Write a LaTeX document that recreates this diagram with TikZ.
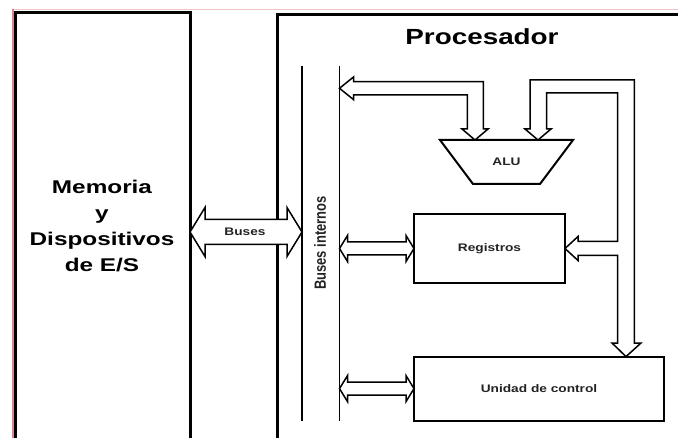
\documentclass[tikz,border=0pt]{standalone}
\usepackage{fontspec}
\setmainfont{Liberation Sans}
\usetikzlibrary{calc}
\definecolor{framepink}{RGB}{214,132,150}
\definecolor{toppink}{RGB}{238,196,198}
\definecolor{labelgray}{RGB}{35,35,35}
\tikzset{
	bigbox/.style={draw, line width=3bp, outer sep=0pt, inner sep=0pt},
	unitbox/.style={draw, fill=white, line width=2bp, outer sep=0pt, inner sep=0pt},
	busline/.style={line width=1.5bp},
	hollow/.style={draw, fill=white, line width=1.5bp, line join=miter},
	lbl/.style={font=\fontsize{11}{13}\selectfont\bfseries, text=labelgray, xscale=1.25},
}
% horizontal hollow double arrow: left tip, right tip, head length, head half, shaft half
\newcommand{\dblarrow}[5]{%
	\draw[hollow] (#1) -- ($(#1)+(#3,-#4)$) -- ($(#1)+(#3,-#5)$) -- ($(#2)+(-#3,-#5)$)
	-- ($(#2)+(-#3,-#4)$) -- (#2) -- ($(#2)+(-#3,#4)$) -- ($(#2)+(-#3,#5)$)
	-- ($(#1)+(#3,#5)$) -- ($(#1)+(#3,#4)$) -- cycle;}

\begin{document}
\begin{tikzpicture}[x=1bp, y=-1bp]
	\useasboundingbox (0,0) rectangle (678,438);
	\fill[white] (0,0) rectangle (678,438);
	
	% edge of the scan
	\draw[toppink, line width=1bp] (12,9.5) -- (678,9.5);
	\draw[framepink, line width=2bp] (12.5,9.5) -- (12.5,438);
	
	% outer blocks
	\node[bigbox, minimum width=175bp, minimum height=460bp, anchor=north west] (mem) at (15,13) {};
	\node[bigbox, minimum width=430bp, minimum height=460bp, anchor=north west] (proc) at (277,15) {};
	
	\node[font=\fontsize{22}{26}\selectfont\bfseries, xscale=1.27] (title) at (482,37) {Procesador};
	\node[font=\fontsize{18.5}{26}\selectfont\bfseries, align=center, xscale=1.32] (memtxt) at (102,226)
	{Memoria\\y\\Dispositivos\\de E/S};
	
	% internal buses
	\coordinate (busL top) at (302,66);
	\coordinate (busL bot) at (302,421);
	\coordinate (busR top) at (339.5,66);
	\coordinate (busR bot) at (339.5,421);
	\draw[busline] (busL top) -- (busL bot);
	\draw[busline] (busR top) -- (busR bot);
	\node[lbl, font=\fontsize{13}{15}\selectfont\bfseries, rotate=90] (busname) at (320,243) {Buses internos};
	
	% units
	\node[unitbox, minimum width=151bp, minimum height=69bp] (regs) at (489.5,248.5) {};
	\node[lbl] (regstxt) at (regs) {Registros};
	\node[unitbox, minimum width=250bp, minimum height=64bp] (uc) at (539,388.6) {};
	\node[lbl] (uctxt) at (uc) {Unidad de control};
	
	\coordinate (aluTL) at (440,140);
	\coordinate (aluTR) at (573,140);
	\coordinate (aluBR) at (540,184);
	\coordinate (aluBL) at (473,184);
	\draw[line width=2bp, line join=miter] (aluTL) -- (aluTR) -- (aluBR) -- (aluBL) -- cycle;
	\node[lbl] (alu) at (506.5,162) {ALU};
	\coordinate (aluA) at (475,140);
	\coordinate (aluB) at (538,140);
	
	% Buses to the outside
	\coordinate (busmid) at (245,232);
	\dblarrow{mem.east |- busmid}{busL top |- busmid}{15}{24.5}{12.5}
	\node[lbl] (buslbl) at (busmid) {Buses};
	
	% internal bus to the units
	\dblarrow{busR top |- regs.west}{regs.west}{8}{13}{6.5}
	\dblarrow{busR top |- uc.west}{uc.west}{8}{13}{6.5}
	
	% ALU result back to the bus
	\coordinate (aluout) at (busR top |- 0,88.3);
	\draw[hollow] (aluout) -- ++(14,-11.3) -- ++(0,4.6) -- (483.3,81.7) -- (483.3,129) -- (488,129)
	-- (aluA) -- (462,129) -- (467.3,129) -- (467.3,95) -- (353.5,95) -- (353.5,99.6) -- cycle;
	
	% loop from ALU to registers and control unit
	\draw[hollow] (aluB) -- (551,129) -- (546.7,129) -- (546.7,93) -- (617.7,93) -- (617.7,241.5)
	-- (578,241.5) -- (578,236.5) -- (regs.east) -- (578,260.5) -- (578,255.5) -- (617.7,255.5)
	-- (617.7,343) -- (612,343) -- ($(uc.north east)+(-38,0)$) -- (641,343) -- (634.3,343)
	-- (634.3,80) -- (530,80) -- (530,129) -- (525,129) -- cycle;
\end{tikzpicture}
\end{document}
